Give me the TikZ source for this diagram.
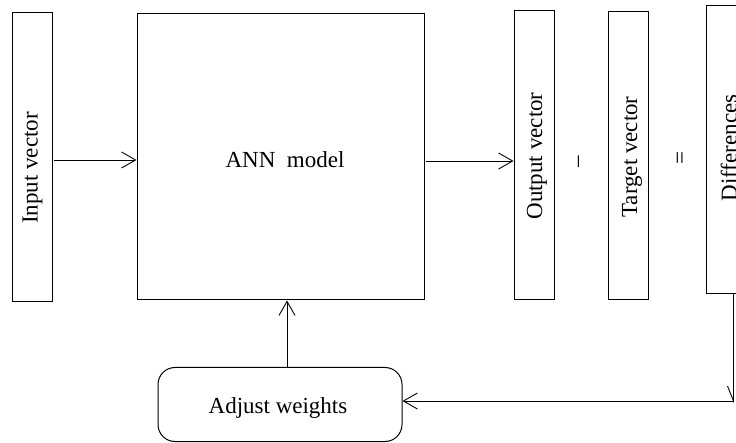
\documentclass[tikz,border=0pt]{standalone}
\usepackage{fontspec}
\setmainfont{Liberation Serif}
\usetikzlibrary{arrows.meta}
\tikzset{
  boxshape/.style={draw, line width=1pt, rectangle, inner sep=0pt},
  lbl/.style={inner sep=0pt, font=\fontsize{23}{27}\selectfont},
  vlbl/.style={lbl, rotate=90},
  conn/.style={line width=0.9pt, -{Straight Barb[length=14pt,width=16pt,line width=0.9pt]}},
}
\begin{document}
\begin{tikzpicture}[x=1pt,y=-1pt]
\useasboundingbox (0,0) rectangle (736,443);
% boxes
\node[boxshape, minimum width=40pt, minimum height=289pt] (inbox) at (32,157.5) {};
\node[boxshape, minimum width=287pt, minimum height=286pt] (ann) at (280.5,157) {};
\node[boxshape, minimum width=40pt, minimum height=289pt] (outbox) at (534,155.5) {};
\node[boxshape, minimum width=40pt, minimum height=288pt] (tgtbox) at (628,156) {};
\node[boxshape, minimum width=44pt, minimum height=288pt] (diffbox) at (728,150) {};
\node[boxshape, rounded corners=17pt, minimum width=244pt, minimum height=74pt] (adj) at (280,404.5) {};
% labels
\node[vlbl] (intext) at (32.5,168) {Input vector};
\node[lbl] (anntext) at (285,160) {ANN\ \ model};
\node[vlbl] (outtext) at (537,156) {Output vector};
\node[vlbl] (minus) at (581,162) {–};
\node[vlbl] (tgttext) at (632,157) {Target vector};
\node[vlbl] (eq) at (682,158) {=};
\node[vlbl] (difftext) at (729,148) {Differences};
\node[lbl] (adjtext) at (278,408) {Adjust weights};
% connectors
\coordinate (inout) at (54,160);
\draw[conn] (inout) -- (inout -| ann.west);
\coordinate (annout) at (426,161);
\draw[conn] (annout) -- (annout -| outbox.west);
\coordinate (adjtop) at (287,367);
\draw[conn] (adjtop) -- (adjtop |- ann.south);
\coordinate (dstart) at (733.5,294);
\coordinate (dcorner) at (733.5,401);
\draw[line width=0.9pt] (dstart) -- (dcorner) -- ++(-6,-15);
\draw[conn] (dcorner) -- (dcorner -| adj.east);
\end{tikzpicture}
\end{document}
